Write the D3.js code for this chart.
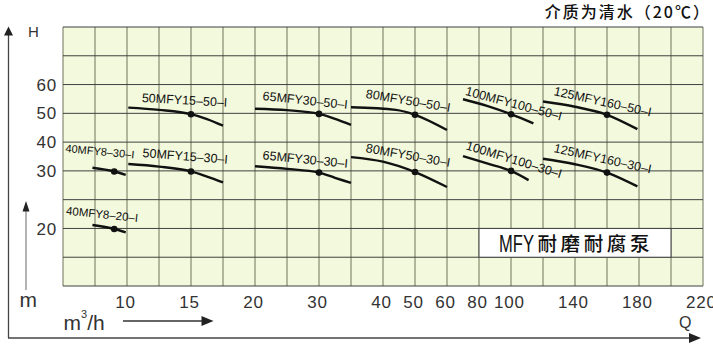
<!DOCTYPE html>
<html><head><meta charset="utf-8">
<script src="https://cdn.jsdelivr.net/npm/d3@7/dist/d3.min.js"></script>
<style>html,body{margin:0;padding:0;background:#fff}svg{display:block}</style>
</head><body>
<svg id="chart" width="713" height="355"></svg>
<script>
// ---- data ----
const qGridValues = [5,7.5,10,12.5,15,17.5,20,25,30,35,40,50,60,80,100,120,140,160,180,200,220];
const hGridValues = [10,15,20,25,30,40,50,60,70,80];
const qTickLabels = [10,15,20,30,40,50,60,80,100,140,180,220];
const hTickLabels = [60,50,40,30,20];
const models = ["40MFY8–20–I","40MFY8–30–I","50MFY15–30–I","50MFY15–50–I","65MFY30–30–I","65MFY30–50–I",
                "80MFY50–30–I","80MFY50–50–I","100MFY100–30–I","100MFY100–50–I","125MFY160–30–I","125MFY160–50–I"];
const curveQ = [
  [7.3, 9, 9.9],
  [7.3, 9, 9.9],
  [10.1, 12.5, 15, 16.25, 17.5],
  [10.1, 12.5, 15, 16.25, 17.5],
  [20, 25, 30, 32.5, 35],
  [20, 25, 30, 32.5, 35],
  [35, 40, 50, 60],
  [35, 44, 50, 60],
  [70, 85, 100, 111],
  [70, 85, 100, 114],
  [120, 140, 160, 179],
  [120, 140, 160, 179]
];
const curveH = [
  [20.6, 19.9, 19.3],
  [31.1, 29.9, 29.3],
  [32.4, 31.5, 29.9, 29.0, 28.0],
  [52.0, 51.2, 49.7, 48.0, 45.7],
  [31.6, 30.7, 29.7, 28.8, 27.9],
  [51.6, 51.1, 49.8, 48.1, 46.0],
  [34.8, 33.2, 29.8, 27.2],
  [52.1, 51.2, 49.5, 44.2],
  [35.1, 32.6, 30.0, 28.4],
  [54.9, 52.6, 49.7, 46.5],
  [34.2, 32.3, 29.7, 27.3],
  [54.1, 52.3, 49.5, 44.5]
];
const dutyQ = [9, 9, 15, 15, 30, 30, 50, 50, 100, 100, 160, 160];
const dutyH = [19.9, 29.9, 29.9, 49.7, 29.7, 49.8, 29.8, 49.5, 30.0, 49.7, 29.7, 49.5];
const titleText = "介质为清水（20℃）";
const legendLatin = "MFY";
const legendCJK = "耐磨耐腐泵";

// ---- layout ----
const L = 63, R = 703, T = 27, B = 286;
const colW = (R - L) / (qGridValues.length - 1);
const rowH = (B - T) / (hGridValues.length - 1);
const x = d3.scaleLinear().domain(qGridValues).range(qGridValues.map((d, i) => L + i * colW));
const y = d3.scaleLinear().domain(hGridValues).range(hGridValues.map((d, i) => B - i * rowH));
// label placement relative to first curve point: [dx, dy, angle, fontSize]
const labelLayout = [
  [-26.7, -10.5, 6, 11.5], [-27.3, -15.7, 5.4, 11], [14, -7, 4.5, 12.5], [13.4, -5.7, 3.3, 12.5],
  [7.3, -7, 5.7, 12.5], [7.3, -8.7, 6, 12.5], [14.3, -5, 10, 12.5], [14.3, -9.6, 9.6, 12.5],
  [2.3, -7, 17, 12.5], [1.7, -4.4, 15, 12.5], [10.3, -6.7, 12.5, 12.5], [10.3, -6.6, 12.6, 12.5]
];
const FONT = "'Liberation Sans', Arial, sans-serif";
const CJK = "'Noto Sans CJK SC', 'Liberation Sans', sans-serif";

const svg = d3.select("#chart");

// plot background
svg.append("rect").attr("x", L).attr("y", T).attr("width", R - L).attr("height", B - T).attr("fill", "#f3f9dc");

// vertical grid
svg.append("g").selectAll("line").data(qGridValues).join("line")
  .attr("x1", d => x(d)).attr("x2", d => x(d)).attr("y1", T).attr("y2", B)
  .attr("stroke", "#6f735c").attr("stroke-width", 1);
// horizontal grid
svg.append("g").selectAll("line").data(hGridValues).join("line")
  .attr("x1", L).attr("x2", R).attr("y1", d => y(d)).attr("y2", d => y(d))
  .attr("stroke", "#3f4040").attr("stroke-width", 1);

// legend box (white cell covering grid)
svg.append("rect").attr("x", x(80)).attr("y", y(20)).attr("width", x(200) - x(80)).attr("height", y(15) - y(20))
  .attr("fill", "#fff").attr("stroke", "#3f4040").attr("stroke-width", 1);
svg.append("text").attr("transform", `translate(${x(80) + 20},${y(15) - 5.5}) scale(0.69,1)`)
  .attr("font-family", FONT).attr("font-size", 24).attr("fill", "#111").text(legendLatin);
svg.append("text").attr("x", x(80) + 58.5).attr("y", y(15) - 6)
  .attr("font-family", CJK).attr("font-size", 19.5).attr("font-weight", 500).attr("letter-spacing", 3.6).attr("fill", "#111").text(legendCJK);

// curves
const line = d3.line().x(d => x(d[0])).y(d => y(d[1])).curve(d3.curveMonotoneX);
models.forEach((m, i) => {
  const pts = curveQ[i].map((q, j) => [q, curveH[i][j]]);
  svg.append("path").attr("d", line(pts)).attr("fill", "none").attr("stroke", "#111")
    .attr("stroke-width", 2.4).attr("stroke-linecap", "butt");
  svg.append("circle").attr("cx", x(dutyQ[i])).attr("cy", y(dutyH[i])).attr("r", 3.3).attr("fill", "#111");
  const [dx, dy, ang, fs] = labelLayout[i];
  const lx = x(curveQ[i][0]) + dx, ly = y(curveH[i][0]) + dy;
  svg.append("text").attr("transform", `translate(${lx},${ly}) rotate(${ang})`)
    .attr("font-family", FONT).attr("font-size", fs).attr("fill", "#111").text(m);
});

// tick labels
svg.append("g").selectAll("text").data(qTickLabels).join("text")
  .attr("x", d => x(d) - 1.5).attr("y", 308).attr("text-anchor", "middle")
  .attr("font-family", FONT).attr("font-size", 17).attr("letter-spacing", 0.8).attr("fill", "#333").text(d => d);
svg.append("g").selectAll("text").data(hTickLabels).join("text")
  .attr("x", 57).attr("y", d => y(d)).attr("dy", "0.36em").attr("text-anchor", "end")
  .attr("font-family", FONT).attr("font-size", 17).attr("letter-spacing", 0.8).attr("fill", "#333").text(d => d);

// outer axes (H and Q)
const ax = "#444";
svg.append("line").attr("x1", 8.5).attr("x2", 8.5).attr("y1", 338).attr("y2", 34).attr("stroke", ax).attr("stroke-width", 1.3);
svg.append("path").attr("d", "M8.5,26.5 L4,35.5 L13,35.5 Z").attr("fill", "#222");
svg.append("line").attr("x1", 8).attr("x2", 692).attr("y1", 338).attr("y2", 338).attr("stroke", ax).attr("stroke-width", 1.3);
svg.append("path").attr("d", "M701,338 L689,333 L689,343 Z").attr("fill", "#222");
svg.append("text").attr("x", 28).attr("y", 37).attr("font-family", FONT).attr("font-size", 15).attr("fill", "#333").text("H");
svg.append("text").attr("x", 679).attr("y", 327.5).attr("font-family", FONT).attr("font-size", 16).attr("fill", "#333").text("Q");

// small unit arrows
svg.append("line").attr("x1", 26).attr("x2", 26).attr("y1", 290).attr("y2", 210).attr("stroke", "#666").attr("stroke-width", 1);
svg.append("path").attr("d", "M26,201 L22.5,211.5 L29.5,211.5 Z").attr("fill", "#222");
svg.append("text").attr("x", 19.5).attr("y", 307).attr("font-family", FONT).attr("font-size", 21).attr("fill", "#333").text("m");
svg.append("line").attr("x1", 123).attr("x2", 203).attr("y1", 321).attr("y2", 321).attr("stroke", "#333").attr("stroke-width", 1.3);
svg.append("path").attr("d", "M213.5,321 L201.5,316 L201.5,326 Z").attr("fill", "#222");
const mh = svg.append("text").attr("x", 63.5).attr("y", 330).attr("font-family", FONT).attr("font-size", 21).attr("fill", "#333");
mh.append("tspan").text("m");
mh.append("tspan").attr("font-size", 11).attr("dy", -12).text("3");
mh.append("tspan").attr("dy", 12).text("/h");

// title
svg.append("text").attr("x", 711).attr("y", 18).attr("text-anchor", "end").attr("font-family", CJK)
  .attr("font-size", 16).attr("font-weight", 500).attr("letter-spacing", 2).attr("fill", "#111").text(titleText);
</script>
</body></html>
